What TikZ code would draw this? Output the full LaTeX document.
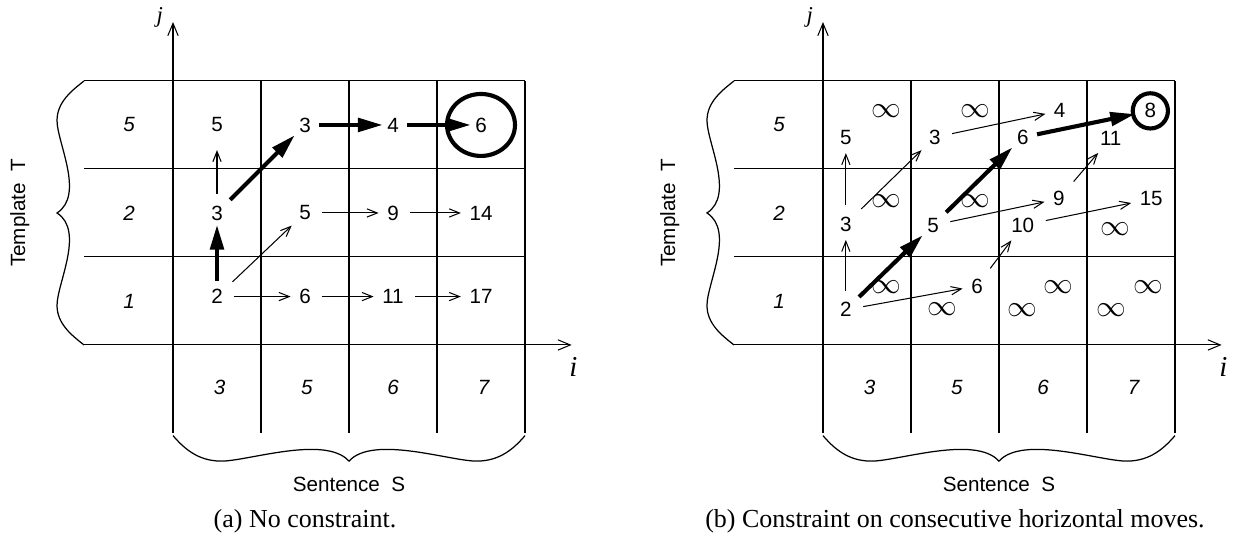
\documentclass[tikz,border=0pt]{standalone}
\usepackage{fontspec}
\setmainfont{Liberation Sans}
\newfontfamily\capfont{Liberation Serif}
\usetikzlibrary{arrows.meta}
\tikzset{
    grid line/.style={line width=0.5pt},
    axis/.style={
        line width=0.5pt,
        -{Straight Barb[length=6pt,width=5pt]}
    },
    brace line/.style={line width=0.6pt},
    val/.style={inner sep=2pt, font=\fontsize{10}{12}\selectfont},
    lbl/.style={font=\fontsize{10}{12}\selectfont\itshape},
    inf/.style={inner sep=0pt, font=\fontsize{14.5}{14.5}\selectfont},
    move/.style={
        draw, line width=0.5pt,
        -{Straight Barb[length=5pt,width=4pt]},
        shorten <=3.5pt, shorten >=2pt
    },
    best/.style={
        draw, line width=2pt,
        -{Triangle[length=12pt,width=6.5pt]},
        shorten <=2pt
    },
    goal/.style={line width=2pt},
    caption/.style={font=\capfont\fontsize{12.6}{15}\selectfont}
}
\begin{document}
\begin{tikzpicture}[x=1.5cm, y=1.5cm]
    \useasboundingbox (-1.966,-2.227) rectangle (12.125,3.920);

    % the two grids with their axes, braces and labels
    \foreach \dx/\pn/\cap in {0/a/{(a) No constraint.}, 7.386/b/{(b) Constraint on consecutive horizontal moves.}} {
        \begin{scope}[shift={(\dx,0)}]
            \foreach \y in {1,2,3}
                \draw[grid line] (-1.011,\y) -- (4,\y);
            \foreach \x in {1,2,3,4}
                \draw[grid line] (\x,-1) -- (\x,3);
            \draw[axis] (-1.011,0) -- (4.53,0);
            \draw[axis] (0,-1) -- (0,3.67);
            \node[font=\capfont\itshape\fontsize{11}{13}\selectfont] (\pn-j) at (-0.15,3.72) {j};
            \node[font=\capfont\itshape\fontsize{14}{16}\selectfont] (\pn-i) at (4.55,-0.25) {i};

            \node[lbl] (\pn-row1) at (-0.5,0.5) {1};
            \node[lbl] (\pn-row2) at (-0.5,1.5) {2};
            \node[lbl] (\pn-row3) at (-0.5,2.5) {5};
            \node[lbl] (\pn-col1) at (0.53,-0.48) {3};
            \node[lbl] (\pn-col2) at (1.52,-0.48) {5};
            \node[lbl] (\pn-col3) at (2.5,-0.48) {6};
            \node[lbl] (\pn-col4) at (3.53,-0.48) {7};

            \draw[brace line] (-1.011,3) .. controls (-1.151,2.89) and (-1.318,2.76) .. (-1.318,2.55)
                .. controls (-1.318,2.3) and (-1.0,1.705) .. (-1.318,1.5)
                .. controls (-1.0,1.295) and (-1.318,0.7) .. (-1.318,0.45)
                .. controls (-1.318,0.24) and (-1.151,0.11) .. (-1.011,0);
            \draw[brace line] (0,-1.03) .. controls (0.12,-1.17) and (0.28,-1.32) .. (0.55,-1.32)
                .. controls (0.85,-1.32) and (1.73,-1.02) .. (2,-1.32)
                .. controls (2.27,-1.02) and (3.15,-1.32) .. (3.45,-1.32)
                .. controls (3.72,-1.32) and (3.88,-1.17) .. (4,-1.03);

            \node[font=\fontsize{10}{12}\selectfont] (\pn-sent) at (2,-1.59) {Sentence\ \ S};
            \node[font=\fontsize{10}{12}\selectfont, rotate=90] (\pn-temp) at (-1.74,1.5) {Template\ \ T};
            \node[caption] (\pn-cap) at (1.5,-2.0) {\cap};
        \end{scope}
    }

    % (a) no constraint
    \node[val] (a11) at (0.5,0.55) {2};
    \node[val] (a21) at (1.5,0.55) {6};
    \node[val] (a31) at (2.5,0.55) {11};
    \node[val] (a41) at (3.5,0.55) {17};
    \node[val] (a12) at (0.5,1.5) {3};
    \node[val] (a22) at (1.5,1.5) {5};
    \node[val] (a32) at (2.5,1.5) {9};
    \node[val] (a42) at (3.5,1.5) {14};
    \node[val] (a13) at (0.5,2.5) {5};
    \node[val] (a23) at (1.5,2.5) {3};
    \node[val] (a33) at (2.5,2.5) {4};
    \node[val] (a43) at (3.5,2.5) {6};

    \draw (a11) edge[best] (a12);
    \draw (a12) edge[best] (a23);
    \draw (a23) edge[best] (a33);
    \draw (a33) edge[best] (a43);
    \draw (a12) edge[move, shorten >=6.5pt] (a13);
    \draw (a11) edge[move] (a22);
    \draw (a11) edge[move] (a21);
    \draw (a21) edge[move] (a31);
    \draw (a31) edge[move] (a41);
    \draw (a22) edge[move] (a32);
    \draw (a32) edge[move] (a42);
    \draw[goal] (a43) ellipse [x radius=0.386, y radius=0.352];

    % (b) constraint on consecutive horizontal moves
    \begin{scope}[shift={(7.386,0)}]
        \node[val] (b11) at (0.26,0.40) {2};
        \node[val] (b12) at (0.26,1.375) {3};
        \node[val] (b13) at (0.26,2.36) {5};
        \node[val] (b21) at (1.75,0.67) {6};
        \node[val] (b22) at (1.25,1.36) {5};
        \node[val] (b23) at (1.27,2.36) {3};
        \node[val] (b32l) at (2.27,1.36) {10};
        \node[val] (b32u) at (2.68,1.66) {9};
        \node[val] (b33l) at (2.27,2.36) {6};
        \node[val] (b33u) at (2.69,2.66) {4};
        \node[val] (b42u) at (3.73,1.66) {15};
        \node[val] (b43l) at (3.27,2.35) {11};
        \node[val] (b43u) at (3.72,2.66) {8};

        \foreach \p [count=\k] in {(0.72,2.66), (0.72,1.64), (1.73,2.66), (1.73,1.64),
                (0.72,0.66), (1.36,0.41), (2.27,0.40), (2.68,0.66),
                (3.28,0.40), (3.70,0.66), (3.32,1.32)}
            \node[inf] (inf\k) at \p {$\infty$};

        \draw (b11) edge[best] (b22);
        \draw (b22) edge[best] (b33l);
        \draw (b33l) edge[best, shorten >=2.5pt] (b43u);
        \draw (b11) edge[move] (b12);
        \draw (b12) edge[move] (b13);
        \draw (b12) edge[move] (b23);
        \draw (b23) edge[move] (b33u);
        \draw (b11) edge[move] (b21);
        \draw (b21) edge[move] (b32l);
        \draw (b22) edge[move] (b32u);
        \draw (b32u) edge[move] (b43l);
        \draw (b32l) edge[move] (b42u);
        \draw[goal] (b43u) circle [radius=0.2];
    \end{scope}
\end{tikzpicture}
\end{document}
